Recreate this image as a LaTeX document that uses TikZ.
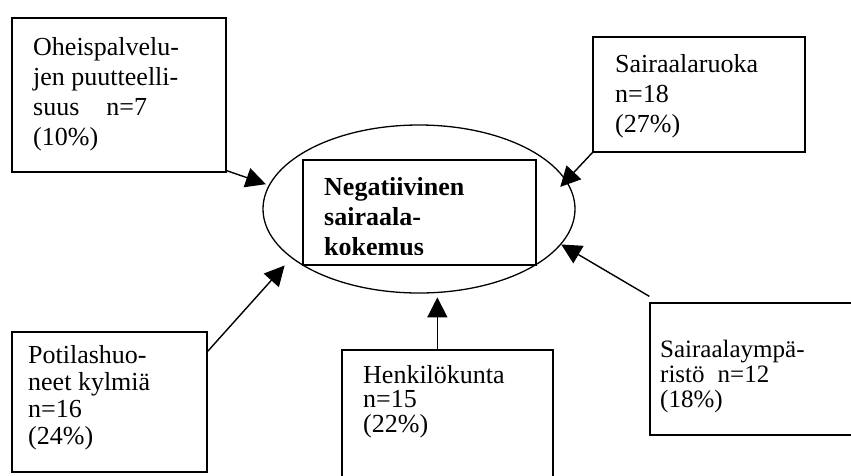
\documentclass[tikz,border=0pt]{standalone}
\usepackage{fontspec}
\setmainfont{Liberation Serif}
\usetikzlibrary{shapes.geometric,arrows.meta,calc}
\begin{document}
\begin{tikzpicture}[x=1pt,y=-1pt,
  box/.style={draw, line width=1.3pt, rectangle, inner sep=0pt},
  oval/.style={draw, line width=1.3pt, ellipse, inner sep=0pt},
  lbl/.style={anchor=base west, inner sep=0pt, font=\fontsize{26}{30}\selectfont},
  lbltight/.style={anchor=base west, inner sep=0pt, font=\fontsize{25}{25}\selectfont},
  arr/.style={line width=1.4pt, -{Triangle[length=20pt,width=20pt]}},
]
\clip (0,0) rectangle (851,475);
\fill[white] (0,0) rectangle (851,475);

% ellipse and central box
\node[oval, minimum width=312pt, minimum height=168pt] (E) at (419,209) {};
\node[box, minimum width=233pt, minimum height=105pt] (N) at (419.5,212.5) {};
\begin{scope}
  \clip (303,150) rectangle (536,254);
  \node[lbl] (Nt) at (324,195) {\parbox[t]{200pt}{\bfseries Negatiivinen\\sairaala-\\kokemus}};
\end{scope}

% outer boxes
\node[box, minimum width=214pt, minimum height=154pt] (A) at (119,95) {};
\node[lbl] (At) at (33,55) {\parbox[t]{190pt}{Oheispalvelu-\\jen puutteelli-\\suus\hspace{27pt}n=7\\(10\%)}};

\node[box, minimum width=212pt, minimum height=115pt] (B) at (699,94.5) {};
\node[lbl] (Bt) at (615,72) {\parbox[t]{185pt}{Sairaalaruoka\\n=18\\(27\%)}};

\node[box, minimum width=220pt, minimum height=132pt] (C) at (760,369) {};
\node[lbltight] (Ct) at (660,357) {\parbox[t]{185pt}{Sairaalaympä-\\ristö\hspace{13pt}n=12\\(18\%)}};

\node[box, minimum width=195pt, minimum height=140pt] (F) at (109.5,402) {};
\node[lbl, font=\fontsize{26}{27}\selectfont] (Ft) at (28,363) {\parbox[t]{175pt}{Potilashuo-\\neet kylmiä\\n=16\\(24\%)}};

\node[box, minimum width=211pt, minimum height=140pt] (D) at (447.5,420) {};
\node[lbltight, font=\fontsize{26}{24.5}\selectfont] (Dt) at (363,383) {\parbox[t]{185pt}{Henkilökunta\\n=15\\(22\%)}};

% connectors
\draw[arr, shorten >=3pt] ($(A.south east)+(0,-2)$) -- (E.171);
\draw[arr, shorten >=-9pt] (B.south west) -- (E.11);
\draw[arr] ($(C.north west)+(0,-6)$) -- (E.-14);
\draw[arr, shorten >=10pt] ($(F.north east)+(0,20)$) -- (E.201);
\draw[arr] ($(D.north west)+(96,0)$) -- ++(0,-52);
\end{tikzpicture}
\end{document}
